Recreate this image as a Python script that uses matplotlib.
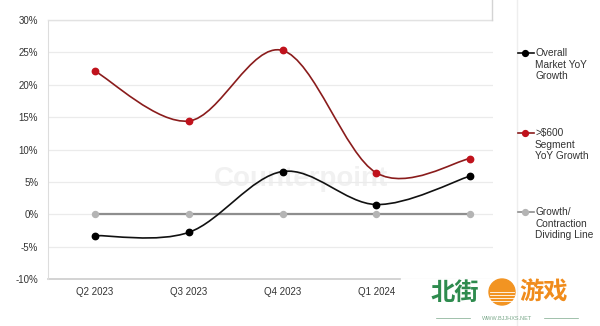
import numpy as np
import matplotlib.pyplot as plt
from matplotlib.path import Path
from matplotlib.patches import PathPatch, Wedge
from matplotlib.lines import Line2D

plt.rcParams['font.family'] = ['Liberation Sans', 'Noto Sans CJK SC', 'DejaVu Sans']

quarters = ["Q2 2023", "Q3 2023", "Q4 2023", "Q1 2024", ""]
overall = [-3.3, -2.8, 6.6, 1.5, 5.9]
premium = [22.1, 14.4, 25.3, 6.4, 8.6]
divider = [0, 0, 0, 0, 0]
labels = ["Overall\nMarket YoY\nGrowth", ">\\$600\nSegment\nYoY Growth",
          "Growth/\nContraction\nDividing Line"]
yticks = [-10, -5, 0, 5, 10, 15, 20, 25, 30]


def smooth_path(x, y):
    # catmull-rom style bezier, like excel "smoothed line"
    x = list(x); y = list(y)
    px = [x[0]] + x + [x[-1]]
    py = [y[0]] + y + [y[-1]]
    verts = [(x[0], y[0])]
    codes = [Path.MOVETO]
    for i in range(1, len(px) - 2):
        c1 = (px[i] + (px[i + 1] - px[i - 1]) / 6, py[i] + (py[i + 1] - py[i - 1]) / 6)
        c2 = (px[i + 1] - (px[i + 2] - px[i]) / 6, py[i + 1] - (py[i + 2] - py[i]) / 6)
        verts += [c1, c2, (px[i + 1], py[i + 1])]
        codes += [Path.CURVE4] * 3
    return Path(verts, codes)


fig = plt.figure(figsize=(6, 3.26), dpi=100)
ax = fig.add_axes([48 / 600, 1 - 279 / 326, 445 / 600, 259 / 326])

x = np.arange(len(quarters))

# watermark
ax.text(2.2, 5.5, "Counterpoint", fontsize=20, color='#f1f1f1', ha='center',
        va='center', fontweight='bold', zorder=0)

ax.plot(x, divider, color='#8e8e8e', lw=1.6, marker='o', ms=4.3,
        mfc='#b4b4b4', mec='#b4b4b4', zorder=2)
ax.add_patch(PathPatch(smooth_path(x, premium), fill=False, ec='#8a1c1c', lw=1.2, zorder=3))
ax.plot(x, premium, ls='none', marker='o', ms=4.6, color='#c0121c', zorder=4)
ax.add_patch(PathPatch(smooth_path(x, overall), fill=False, ec='#111111', lw=1.2, zorder=3))
ax.plot(x, overall, ls='none', marker='o', ms=4.6, color='#000000', zorder=4)

ax.set_xlim(-47 / 93.75, 4 + 23 / 93.75)
ax.set_ylim(-10, 30)
ax.set_yticks(yticks)
ax.set_yticklabels([f"{v}%" for v in yticks])
ax.set_xticks(x[:4])
ax.set_xticklabels(quarters[:4])
ax.tick_params(length=0, labelsize=7, colors='#333333')
ax.tick_params(axis='y', pad=7)
ax.tick_params(axis='x', pad=6)
ax.grid(axis='y', color='#ebebeb', lw=0.9)
ax.set_axisbelow(True)
for s in ['top', 'right', 'bottom']:
    ax.spines[s].set_visible(False)
ax.spines['left'].set_color('#dddddd')
ax.axhline(-10, xmin=0, xmax=352 / 445, color='#cccccc', lw=1.2, clip_on=False)

# box at top and legend separator
fig.add_artist(Line2D([48 / 600, 492 / 600], [1 - 20 / 326] * 2, color='#e2e2e2', lw=1))
fig.add_artist(Line2D([492 / 600] * 2, [1 - 20 / 326, 1], color='#d4d4d4', lw=1))
fig.add_artist(Line2D([517 / 600] * 2, [0, 1], color='#eeeeee', lw=1))

# legend
leg_y = [53, 133, 212]
leg_styles = [dict(color='#111111', mfc='#000000', mec='#000000'),
              dict(color='#8a1c1c', mfc='#c0121c', mec='#c0121c'),
              dict(color='#8e8e8e', mfc='#b4b4b4', mec='#b4b4b4')]
for yy, lab, st in zip(leg_y, labels, leg_styles):
    fy = 1 - yy / 326
    fig.add_artist(Line2D([518 / 600, 534 / 600], [fy, fy], lw=1.2, color=st['color']))
    fig.add_artist(Line2D([525 / 600], [fy], marker='o', ms=4.2, ls='none',
                          mfc=st['mfc'], mec=st['mec']))
    fig.text(535 / 600, fy + 5 / 326, lab, fontsize=7.3, color='#333333', va='top',
             ha='left', linespacing=1.2)

# site logo
fig.text(431 / 600, 1 - 293 / 326, "北街", fontsize=17.5, color='#2e8b4e',
         fontweight='bold', va='center', ha='left')
fig.add_artist(Wedge((502 / 600 * 6, (1 - 292 / 326) * 3.26), 0.13, 0, 360,
                     transform=fig.dpi_scale_trans, color='#f29422'))
for k in range(4):
    yy = 1 - (292 + k * 3) / 326
    fig.add_artist(Line2D([490 / 600, 514 / 600], [yy, yy], color='white', lw=0.6))
fig.text(519 / 600, 1 - 293 / 326, "游戏", fontsize=17.5, color='#f08c1c',
         fontweight='bold', va='center', ha='left')
fig.text(507 / 600, 1 - 318 / 326, "WWW.BJJHXS.NET", fontsize=4, color='#7aa88a',
         va='center', ha='center')
fig.add_artist(Line2D([436 / 600, 470 / 600], [1 - 318 / 326] * 2, color='#7aa88a', lw=0.5))
fig.add_artist(Line2D([544 / 600, 578 / 600], [1 - 318 / 326] * 2, color='#7aa88a', lw=0.5))

fig.savefig("out.png", dpi=100)
